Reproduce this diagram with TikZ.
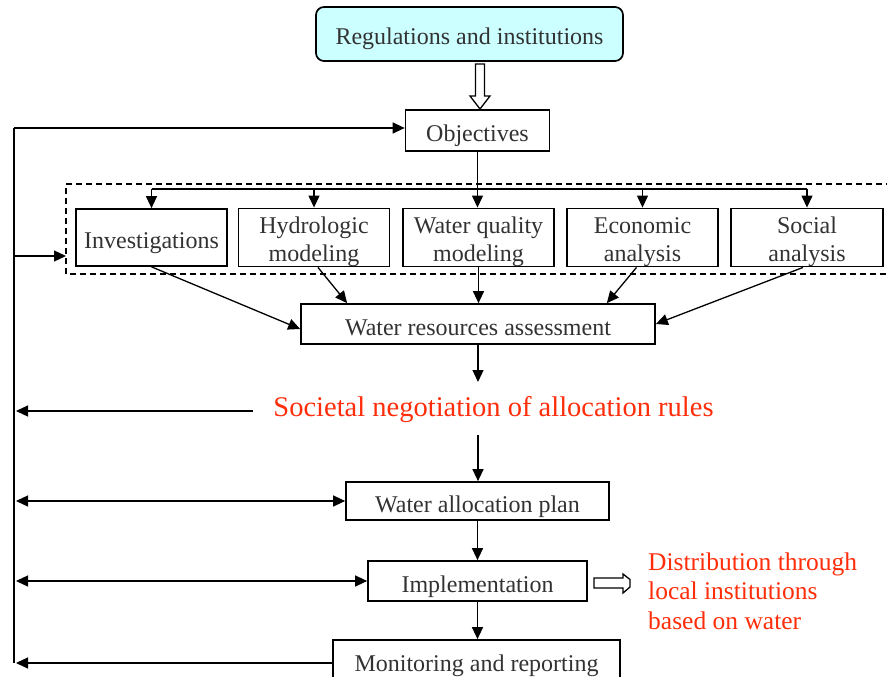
\documentclass[tikz,border=0pt]{standalone}
\usepackage{fontspec}
\setmainfont{Liberation Serif}
\usetikzlibrary{arrows.meta,calc}
\definecolor{regfill}{RGB}{204,255,255}
\definecolor{negred}{RGB}{255,45,10}
\definecolor{txt}{RGB}{50,50,50}
\begin{document}
\begin{tikzpicture}[x=1pt,y=-1pt,
  box/.style={draw, line width=1.7pt, inner sep=0pt, text=txt, font=\fontsize{24}{28}\selectfont, align=center},
  onebox/.style={box, text height=22pt, text depth=0pt},
  twobox/.style={box, minimum width=151pt, minimum height=57pt},
  arr/.style={line width=1.3pt, -{Triangle[length=12pt,width=11pt]}},
  darr/.style={line width=1.3pt, {Triangle[length=12pt,width=11pt]}-{Triangle[length=12pt,width=11pt]}},
  ln/.style={line width=1.3pt},
  hollow/.style={draw, line width=1.3pt, fill=white, line join=miter},
  redtxt/.style={text=negred, inner sep=0pt}]
\useasboundingbox (0,0) rectangle (887,677);
\clip (0,0) rectangle (887,677);

% boxes
\node[onebox, rounded corners=8pt, fill=regfill, minimum width=307pt, minimum height=54pt] (reg) at (469.5,34) {Regulations and institutions};
\node[onebox, minimum width=144pt, minimum height=41pt] (obj) at (477.5,130.5) {Objectives};
\node[onebox, minimum width=151pt, minimum height=57pt] (inv) at (151.5,237.5) {Investigations};
\node[twobox] (hyd) at (314,237.5) {\rule{0pt}{25pt}Hydrologic\\modeling};
\node[twobox] (wq) at (478.5,237.5) {\rule{0pt}{25pt}Water quality\\modeling};
\node[twobox] (eco) at (642.5,237.5) {\rule{0pt}{25pt}Economic\\analysis};
\node[twobox, minimum width=152pt] (soc) at (807,237.5) {\rule{0pt}{25pt}Social\\analysis};
\node[onebox, minimum width=354pt, minimum height=40pt] (wra) at (478,324) {Water resources assessment};
\node[onebox, minimum width=263pt, minimum height=38pt] (wap) at (477.5,501) {Water allocation plan};
\node[onebox, minimum width=219pt, minimum height=40pt] (imp) at (477.5,581) {Implementation};
\node[box, text height=16pt, text depth=0pt, minimum width=287pt, minimum height=46pt] (mon) at (476.5,663) {Monitoring and reporting};

% red texts
\node[redtxt, font=\fontsize{28.5}{32}\selectfont] (neg) at (493.5,410) {Societal negotiation of allocation rules};
\node[redtxt, font=\fontsize{25.5}{29.5}\selectfont, align=left, anchor=west] (dist) at (648,591) {Distribution through\\local institutions\\based on water};

% dashed frame
\draw[dashed, line width=1.8pt, dash pattern=on 6pt off 4pt] (892,184) -- (66,184) -- (66,274) -- (892,274);

% coordinates
\coordinate (bar) at (0,189);
\coordinate (rail) at (16,0);
\coordinate (top) at (14,128);
\coordinate (bot) at (14,663);
\coordinate (b2) at (14,256);
\coordinate (fl) at (66,256);
\coordinate (n1) at (253,411);
\coordinate (n0) at (16,411);
\coordinate (w1) at (478,382);
\coordinate (w2) at (478,435);

% hollow arrow from regulations to objectives
\draw[hollow] (475.5,64) -- (484.5,64) -- (484.5,96) -- (490,96) -- (480,109) -- (470,96) -- (475.5,96) -- cycle;

% objectives to activities
\draw[arr] (obj.south) -- (obj.south |- wq.north);
\draw[ln] (inv.north |- bar) -- (soc.north |- bar);
\foreach \n in {inv,hyd,eco,soc} \draw[arr] (\n.north |- bar) -- (\n.north);

% activities to assessment
\draw[arr] (inv.south) -- ($(wra.west)+(0,5)$);
\draw[arr] ($(hyd.south)+(4,0)$) -- ($(wra.north west)+(47,0)$);
\draw[arr] (wq.south) -- (wq.south |- wra.north);
\draw[arr] ($(eco.south)+(-6,0)$) -- ($(wra.north east)+(-49,0)$);
\draw[arr] ($(soc.south)+(-4,0)$) -- (wra.east);

% main chain
\draw[arr] (wra.south) -- (w1);
\draw[arr] (w2) -- (w2 |- wap.north);
\draw[arr] (wap.south) -- (imp.north);
\draw[arr] (imp.south) -- (imp.south |- mon.north);

% left feedback rail
\draw[ln] (bot) -- (top);
\draw[arr] (top) -- (top -| obj.west);
\draw[arr] (b2) -- (fl);
\draw[arr] (n1) -- (n0);
\draw[darr] (rail |- wap.west) -- (wap.west);
\draw[darr] (rail |- imp.west) -- (imp.west);
\draw[arr] (mon.west) -- (rail |- mon.west);

% small hollow arrow to distribution text
\draw[hollow] (594,578) -- (623,578) -- (623,574) -- (630,579.5) -- (630,587) -- (623,593) -- (623,588) -- (594,588) -- cycle;
\end{tikzpicture}
\end{document}
